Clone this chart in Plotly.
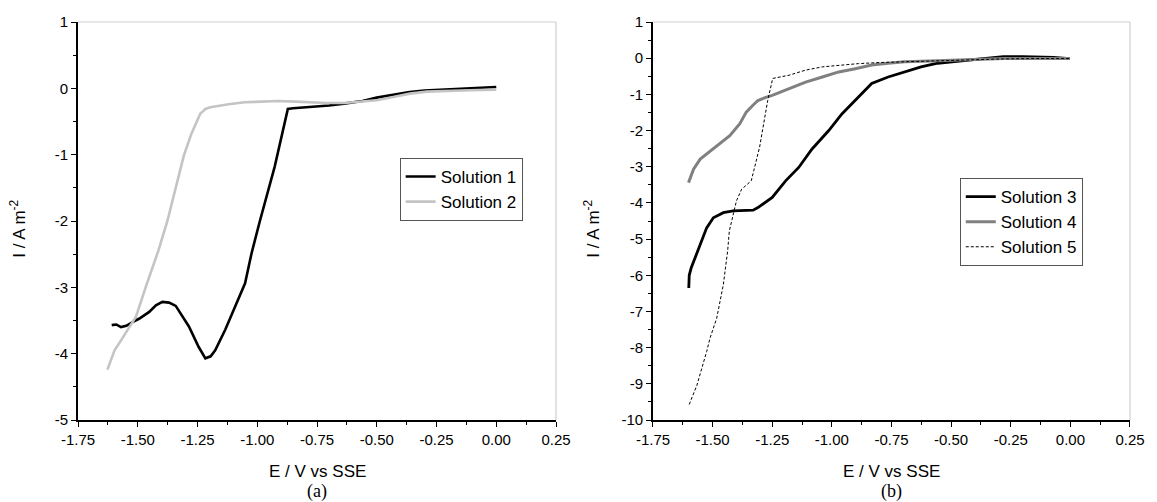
import plotly.graph_objects as go
from plotly.subplots import make_subplots

# ---------------- data (panel a) ----------------
E1 = [-1.609, -1.590, -1.570, -1.548, -1.520, -1.493, -1.452, -1.424, -1.397, -1.369,
      -1.341, -1.315, -1.286, -1.245, -1.217, -1.195, -1.176, -1.134, -1.093, -1.051,
      -1.024, -0.989, -0.927, -0.885, -0.872, -0.850, -0.776, -0.700, -0.637, -0.560,
      -0.500, -0.430, -0.363, -0.300, -0.223, -0.100, 0.000]
I1 = [-3.57, -3.56, -3.60, -3.58, -3.52, -3.47, -3.37, -3.27, -3.22, -3.23,
      -3.28, -3.42, -3.59, -3.90, -4.07, -4.04, -3.95, -3.64, -3.29, -2.94,
      -2.49, -2.00, -1.18, -0.52, -0.31, -0.30, -0.28, -0.26, -0.23, -0.19,
      -0.14, -0.10, -0.055, -0.035, -0.02, 0.00, 0.02]

E2 = [-1.627, -1.612, -1.597, -1.570, -1.540, -1.507, -1.466, -1.413, -1.376, -1.340,
      -1.307, -1.275, -1.250, -1.238, -1.225, -1.217, -1.200, -1.190, -1.120, -1.052,
      -0.980, -0.914, -0.840, -0.776, -0.706, -0.637, -0.570, -0.500, -0.430, -0.362,
      -0.290, -0.223, -0.110, 0.000]
I2 = [-4.24, -4.08, -3.95, -3.80, -3.63, -3.44, -2.99, -2.44, -2.00, -1.48,
      -1.01, -0.68, -0.48, -0.38, -0.34, -0.31, -0.29, -0.28, -0.24, -0.21,
      -0.20, -0.19, -0.20, -0.21, -0.22, -0.22, -0.20, -0.18, -0.13, -0.08,
      -0.05, -0.04, -0.03, -0.02]

# ---------------- data (panel b) ----------------
E3 = [-1.600, -1.598, -1.590, -1.579, -1.563, -1.546, -1.525, -1.497, -1.455, -1.414,
      -1.370, -1.330, -1.310, -1.250, -1.194, -1.139, -1.083, -1.013, -0.958, -0.903,
      -0.833, -0.764, -0.695, -0.626, -0.557, -0.488, -0.419, -0.350, -0.281, -0.200,
      -0.142, -0.070, -0.003]
I3 = [-6.35, -6.00, -5.80, -5.61, -5.33, -5.00, -4.69, -4.41, -4.27, -4.22,
      -4.22, -4.20, -4.13, -3.85, -3.39, -3.02, -2.51, -2.00, -1.54, -1.17,
      -0.70, -0.52, -0.38, -0.24, -0.14, -0.10, -0.04, 0.00, 0.04, 0.04,
      0.04, 0.02, -0.01]

E4 = [-1.601, -1.590, -1.580, -1.552, -1.525, -1.469, -1.428, -1.386, -1.359, -1.331,
      -1.310, -1.280, -1.250, -1.179, -1.110, -1.040, -0.971, -0.902, -0.833, -0.764,
      -0.695, -0.557, -0.419, -0.281, -0.140, -0.003]
I4 = [-3.44, -3.25, -3.07, -2.79, -2.65, -2.37, -2.14, -1.81, -1.49, -1.30,
      -1.17, -1.09, -1.03, -0.84, -0.66, -0.52, -0.38, -0.29, -0.19, -0.14,
      -0.10, -0.07, -0.04, -0.01, -0.01, -0.01]

E5 = [-1.598, -1.566, -1.525, -1.511, -1.483, -1.455, -1.437, -1.430, -1.400, -1.378,
      -1.338, -1.303, -1.269, -1.248, -1.179, -1.110, -1.040, -0.971, -0.888, -0.800,
      -0.700, -0.560, -0.420, -0.280, -0.140, -0.003]
I5 = [-9.57, -9.04, -8.11, -7.74, -7.19, -6.26, -5.33, -4.78, -3.94, -3.62,
      -3.39, -2.46, -1.17, -0.56, -0.47, -0.33, -0.24, -0.19, -0.15, -0.12,
      -0.10, -0.07, -0.04, -0.02, -0.01, -0.01]

X_TICKS = [-1.75, -1.50, -1.25, -1.00, -0.75, -0.50, -0.25, 0.00, 0.25]
Y_TICKS_A = [1, 0, -1, -2, -3, -4, -5]
Y_TICKS_B = [1, 0, -1, -2, -3, -4, -5, -6, -7, -8, -9, -10]
X_TITLE = "E / V vs SSE"
Y_TITLE = "I / A m<sup>-2</sup>"
CAPTIONS = ["(a)", "(b)"]

# ---------------- figure ----------------
W, H = 1157, 502
ML, MR, MT, MB = 78, 16, 22, 82
PW = W - ML - MR
PH = H - MT - MB

def px_x(p):
    return (p - ML) / PW

def px_y(p):
    return (H - MB - p) / PH

fig = make_subplots(rows=1, cols=2, horizontal_spacing=0.0)
dom1 = [0.0, px_x(561)]
dom2 = [px_x(659), 1.0]

fig.add_trace(go.Scatter(x=E1, y=I1, mode="lines", name="Solution 1",
                         line=dict(color="#000000", width=2.6), legend="legend"), 1, 1)
fig.add_trace(go.Scatter(x=E2, y=I2, mode="lines", name="Solution 2",
                         line=dict(color="#c4c4c4", width=2.6), legend="legend"), 1, 1)
fig.add_trace(go.Scatter(x=E3, y=I3, mode="lines", name="Solution 3",
                         line=dict(color="#000000", width=2.8), legend="legend2"), 1, 2)
fig.add_trace(go.Scatter(x=E4, y=I4, mode="lines", name="Solution 4",
                         line=dict(color="#808080", width=3), legend="legend2"), 1, 2)
fig.add_trace(go.Scatter(x=E5, y=I5, mode="lines", name="Solution 5",
                         line=dict(color="#000000", width=1, dash="3px,2px"), legend="legend2"), 1, 2)

tickfont = dict(family="Liberation Sans, Arial, sans-serif", size=15, color="#000")
axis_common = dict(showline=True, linecolor="#000", linewidth=1.6, ticks="outside",
                   ticklen=5, tickwidth=1.2, tickcolor="#000", showgrid=False,
                   zeroline=False, tickfont=tickfont)

for i, dom in ((1, dom1), (2, dom2)):
    xa = "xaxis" if i == 1 else "xaxis2"
    fig.layout[xa].update(domain=dom, range=[-1.75, 0.25], tickvals=X_TICKS,
                          ticktext=[f"{v:.2f}" for v in X_TICKS],
                          minor=dict(dtick=0.125, tick0=-1.75, ticks="outside", ticklen=3,
                                     tickcolor="#000", tickwidth=1.2),
                          **axis_common)

fig.layout.yaxis.update(range=[-5, 1], tickvals=Y_TICKS_A,
                        ticktext=[str(v) for v in Y_TICKS_A],
                        minor=dict(dtick=0.5, tick0=0, ticks="outside", ticklen=3,
                                   tickcolor="#000", tickwidth=1.2), **axis_common)
fig.layout.yaxis2.update(range=[-10, 1], tickvals=Y_TICKS_B,
                         ticktext=[str(v) for v in Y_TICKS_B],
                         minor=dict(dtick=0.5, tick0=0, ticks="outside", ticklen=3,
                                    tickcolor="#000", tickwidth=1.2), **axis_common)

# light grey top / right frame
for xr, yr in (("x domain", "y domain"), ("x2 domain", "y2 domain")):
    fig.add_shape(type="line", xref=xr, yref=yr, x0=0, x1=1, y0=1, y1=1,
                  line=dict(color="#cfcfcf", width=1.2))
    fig.add_shape(type="line", xref=xr, yref=yr, x0=1, x1=1, y0=0, y1=1,
                  line=dict(color="#cfcfcf", width=1.2))

titlefont = dict(family="Liberation Sans, Arial, sans-serif", size=17, color="#000")
capfont = dict(family="Liberation Serif, Times New Roman, serif", size=18, color="#000")
for dom, ytx, cap in ((dom1, 17, CAPTIONS[0]), (dom2, 597, CAPTIONS[1])):
    cx = (dom[0] + dom[1]) / 2
    fig.add_annotation(x=cx, y=px_y(472), xref="paper", yref="paper", text=X_TITLE,
                       showarrow=False, font=titlefont, xanchor="center", yanchor="middle")
    fig.add_annotation(x=cx, y=px_y(492), xref="paper", yref="paper", text=cap,
                       showarrow=False, font=capfont, xanchor="center", yanchor="middle")
    fig.add_annotation(x=px_x(ytx), y=px_y(229), xref="paper", yref="paper", text=Y_TITLE,
                       textangle=-90, showarrow=False, font=titlefont,
                       xanchor="center", yanchor="middle")

legfont = dict(family="Liberation Sans, Arial, sans-serif", size=17, color="#000")
fig.update_layout(
    width=W, height=H,
    margin=dict(l=ML, r=MR, t=MT, b=MB),
    paper_bgcolor="white", plot_bgcolor="white",
    legend=dict(x=px_x(403), y=px_y(158), xanchor="left", yanchor="top",
                bordercolor="#555", borderwidth=1, bgcolor="white", font=legfont,
                tracegroupgap=0, itemwidth=30),
    legend2=dict(x=px_x(969), y=px_y(178), xanchor="left", yanchor="top",
                 bordercolor="#555", borderwidth=1, bgcolor="white", font=legfont,
                 tracegroupgap=0, itemwidth=30),
)

fig.write_html("out.html", config={"displayModeBar": False},
               post_script="document.body.style.margin='0px';document.body.style.overflow='hidden';")
